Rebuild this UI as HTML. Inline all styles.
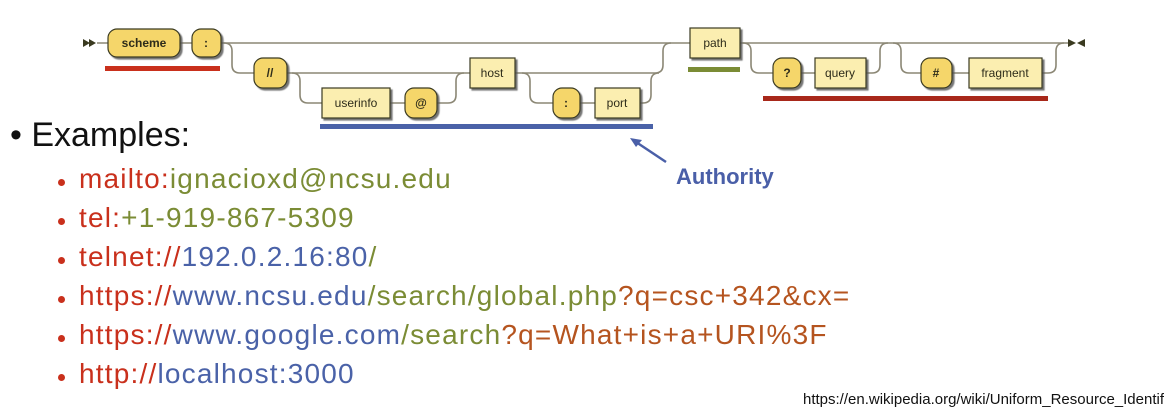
<!DOCTYPE html>
<html><head><meta charset="utf-8"><style>
body{margin:0;width:1164px;height:410px;background:#fff;overflow:hidden;position:relative;font-family:"Liberation Sans",sans-serif}
svg{position:absolute;left:0;top:0}
.t{position:absolute;white-space:nowrap}
.r{color:#c9301c}.o{color:#7b8c35}.b{color:#4a62a8}.n{color:#b5541f}
.sub{font-size:28px;left:79px;letter-spacing:1.2px}
.dot{position:absolute;left:58px;width:7px;height:7px;border-radius:50%;background:#c9301c}
</style></head><body>
<svg width="1164" height="410" viewBox="0 0 1164 410">
<defs>
<filter id="sh" x="-10%" y="-10%" width="130%" height="140%"><feDropShadow dx="2" dy="2" stdDeviation="0.4" flood-color="#555" flood-opacity="0.8"/></filter>
</defs>
<g fill="none" stroke="#8b8775" stroke-width="1.6">
<path d="M97,43 H108 M180,43 H192 M221,43 H690 M740,43 H1068"/>
<path d="M224,43 Q232,43 232,51 V65 Q232,73 240,73 H254 M287,73 H470 M515,73 H655 Q663,73 663,65 V51 Q663,43 671,43"/>
<path d="M292,73 Q300,73 300,81 V95 Q300,103 308,103 H322 M390,103 H405 M437,103 H448 Q456,103 456,95 V81 Q456,73 464,73"/>
<path d="M522,73 Q530,73 530,81 V95 Q530,103 538,103 H553 M580,103 H595 M640,103 H643 Q651,103 651,95 V81 Q651,73 659,73"/>
<path d="M743,43 Q751,43 751,51 V65 Q751,73 759,73 H773 M801,73 H815 M866,73 H872 Q880,73 880,65 V51 Q880,43 888,43"/>
<path d="M893,43 Q901,43 901,51 V65 Q901,73 909,73 H921 M952,73 H969 M1042,73 H1048 Q1056,73 1056,65 V51 Q1056,43 1064,43"/>
</g>
<polygon points="83,39 90,43 83,47" fill="#3a3a20"/><polygon points="89,39 96,43 89,47" fill="#3a3a20"/>
<polygon points="1068,39 1076,43 1068,47" fill="#3a3a20"/><polygon points="1085,39 1077,43 1085,47" fill="#3a3a20"/>
<g stroke="#3a3a20" stroke-width="1.2" filter="url(#sh)">
<rect x="108" y="29" width="72" height="28" rx="9" fill="#f5d66a"/>
<rect x="192" y="29" width="29" height="28" rx="9" fill="#f5d66a"/>
<rect x="254" y="58" width="33" height="30" rx="9" fill="#f5d66a"/>
<rect x="322" y="88" width="68" height="30" fill="#fbeeb0"/>
<rect x="405" y="88" width="32" height="30" rx="9" fill="#f5d66a"/>
<rect x="470" y="58" width="45" height="30" fill="#fbeeb0"/>
<rect x="553" y="88" width="27" height="30" rx="9" fill="#f5d66a"/>
<rect x="595" y="88" width="45" height="30" fill="#fbeeb0"/>
<rect x="690" y="28" width="50" height="30" fill="#fbeeb0"/>
<rect x="773" y="58" width="28" height="30" rx="9" fill="#f5d66a"/>
<rect x="815" y="58" width="51" height="30" fill="#fbeeb0"/>
<rect x="921" y="58" width="31" height="30" rx="9" fill="#f5d66a"/>
<rect x="969" y="58" width="73" height="30" fill="#fbeeb0"/>
</g>
<g font-family="Liberation Sans, sans-serif" font-size="12" fill="#2e2c1a" text-anchor="middle">
<text x="144" y="47" font-weight="bold">scheme</text>
<text x="206" y="47" font-weight="bold">:</text>
<text x="270" y="77" font-weight="bold">//</text>
<text x="356" y="107">userinfo</text>
<text x="421" y="107" font-weight="bold">@</text>
<text x="492" y="77">host</text>
<text x="566" y="107" font-weight="bold">:</text>
<text x="617" y="107">port</text>
<text x="715" y="47">path</text>
<text x="787" y="77" font-weight="bold">?</text>
<text x="840" y="77">query</text>
<text x="936" y="77" font-weight="bold">#</text>
<text x="1005" y="77">fragment</text>
</g>
<rect x="105" y="66" width="115" height="5" fill="#c9301c"/>
<rect x="320" y="124" width="333" height="5" fill="#4a62a8"/>
<rect x="688" y="67" width="52" height="5" fill="#7b8c35"/>
<rect x="763" y="96" width="285" height="5" fill="#a8281a"/>
<line x1="666" y1="162" x2="636" y2="142" stroke="#4a5fa8" stroke-width="2.5"/>
<polygon points="630,138 642,140 636,147" fill="#4a5fa8"/>
</svg>
<div class="t" style="left:10px;top:116px;font-size:34px;color:#111">•&nbsp;Examples:</div>
<div class="t" style="left:676px;top:164px;font-size:22px;font-weight:bold;color:#4a5fa8">Authority</div>
<div class="dot" style="top:179px"></div><div class="t sub" style="top:163px"><span class="r">mailto:</span><span class="o">ignacioxd@ncsu.edu</span></div>
<div class="dot" style="top:218px"></div><div class="t sub" style="top:202px"><span class="r">tel:</span><span class="o">+1-919-867-5309</span></div>
<div class="dot" style="top:257px"></div><div class="t sub" style="top:241px"><span class="r">telnet://</span><span class="b">192.0.2.16:80</span><span class="o">/</span></div>
<div class="dot" style="top:296px"></div><div class="t sub" style="top:280px"><span class="r">https://</span><span class="b">www.ncsu.edu</span><span class="o">/search/global.php</span><span class="n">?q=csc+342&amp;cx=</span></div>
<div class="dot" style="top:335px"></div><div class="t sub" style="top:319px"><span class="r">https://</span><span class="b">www.google.com</span><span class="o">/search</span><span class="n">?q=What+is+a+URI%3F</span></div>
<div class="dot" style="top:374px"></div><div class="t sub" style="top:358px"><span class="r">http://</span><span class="b">localhost:3000</span></div>
<div class="t" style="left:803px;top:391px;font-size:15px;color:#111">https://en.wikipedia.org/wiki/Uniform_Resource_Identif</div>
</body></html>
